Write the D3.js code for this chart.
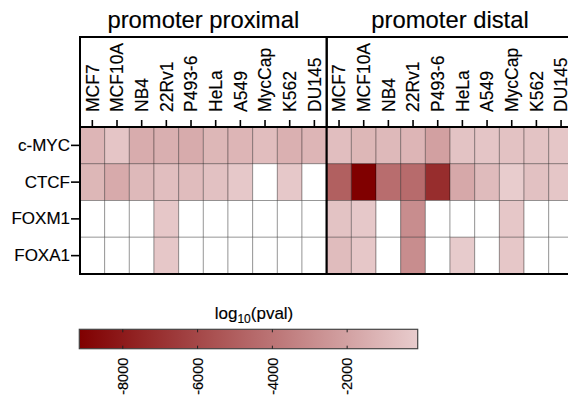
<!DOCTYPE html>
<html>
<head>
<meta charset="utf-8">
<script src="https://cdn.jsdelivr.net/npm/d3@7"></script>
<style>
  body { margin: 0; background: #fff; }
  svg { display: block; font-family: 'Liberation Sans', Arial, sans-serif; }
  text { fill: #000; stroke: #000; stroke-width: 0.15px; }
  .axis path { display: none; }
  .axis line { stroke: #000; stroke-width: 1.6; }
  .cell { stroke: #000; stroke-opacity: 0.3; stroke-width: 1; }
  .frame { fill: none; stroke: #000; stroke-width: 2; }
</style>
</head>
<body>
<svg class="chart"></svg>
<script>
const cellLines = ['MCF7', 'MCF10A', 'NB4', '22Rv1', 'P493-6', 'HeLa', 'A549', 'MycCap', 'K562', 'DU145'];
const factors = ['c-MYC', 'CTCF', 'FOXM1', 'FOXA1'];
const panels = ['promoter proximal', 'promoter distal'];

// log10(pval) per factor (rows) and cell line (columns); null = not significant
const proximalValues = [
  [-1100, -400, -1500, -1400, -1550, -1050, -1100, -750, -1350, -1100],
  [-1050, -1600, -950, -720, -810, -590, -280, null, -280, null],
  [null, null, null, -300, null, null, null, null, null, null],
  [null, null, null, -300, null, null, null, null, null, null],
];
const distalValues = [
  [-720, -1050, -950, -1100, -2050, -500, -410, -550, -500, -370],
  [-4900, -9150, -4300, -4400, -7150, -1700, -850, -120, -600, -350],
  [-500, -280, null, -2900, null, null, null, -300, null, null],
  [-800, -300, null, -2900, null, -150, null, -300, null, null],
];
const colorDomain = [-9150, -100];
const colorbarTicks = [-8000, -6000, -4000, -2000];

const startApp = () => {
  const viewBox = { width: 568, height: 400 };
  const left = 80;
  const panelWidth = 246.7;
  const headerTop = 37;
  const gridTop = 127;
  const gridBottom = 274;
  const svg = d3.select('.chart').attr('width', viewBox.width).attr('height', viewBox.height);

  const color = d3.scaleLinear().domain(colorDomain).range(['#800000', '#e8cccd']).clamp(true);
  const yScale = d3.scaleBand().domain(factors).range([gridTop, gridBottom]);

  [proximalValues, distalValues].forEach((values, p) => {
    const x0 = left + p * panelWidth;
    const xScale = d3.scaleBand().domain(cellLines).range([x0, x0 + panelWidth]);
    const cells = values.flatMap((row, r) => row.map((v, c) => ({ factor: factors[r], line: cellLines[c], v })));

    svg.append('g').selectAll('rect')
      .data(cells)
      .enter()
      .append('rect')
      .classed('cell', true)
      .attr('x', d => xScale(d.line))
      .attr('y', d => yScale(d.factor))
      .attr('width', xScale.bandwidth())
      .attr('height', yScale.bandwidth())
      .attr('fill', d => (d.v === null ? '#fff' : color(d.v)));

    svg.append('rect').classed('frame', true)
      .attr('x', x0).attr('y', gridTop).attr('width', panelWidth).attr('height', gridBottom - gridTop);
    svg.append('rect').classed('frame', true)
      .attr('x', x0).attr('y', headerTop).attr('width', panelWidth).attr('height', gridTop - headerTop);

    const xAxis = svg.append('g')
      .classed('axis', true)
      .attr('transform', `translate(0, ${gridTop})`)
      .call(d3.axisTop(xScale).tickSize(7).tickSizeOuter(0));
    xAxis.selectAll('text')
      .attr('transform', 'rotate(-90)')
      .attr('x', 15).attr('y', 0).attr('dy', '0.36em')
      .style('text-anchor', 'start')
      .style('font-size', '17.5px');

    svg.append('text')
      .attr('x', x0 + panelWidth / 2).attr('y', 28)
      .style('text-anchor', 'middle')
      .style('font-size', '23.8px')
      .text(panels[p]);
  });

  const yAxis = svg.append('g')
    .classed('axis', true)
    .attr('transform', `translate(${left}, 0)`)
    .call(d3.axisLeft(yScale).tickSize(9).tickPadding(1).tickSizeOuter(0));
  yAxis.selectAll('text').style('font-size', '17px');

  // colour bar
  const barTop = 329.3;
  const barHeight = 19.4;
  const barScale = d3.scaleLinear().domain(colorDomain).range([79.3, 417.7]);
  const gradient = svg.append('defs').append('linearGradient').attr('id', 'pvalGradient');
  d3.range(0, 1.0001, 0.1).forEach((t) => {
    gradient.append('stop')
      .attr('offset', `${t * 100}%`)
      .attr('stop-color', color(colorDomain[0] + t * (colorDomain[1] - colorDomain[0])));
  });

  svg.append('rect')
    .attr('x', barScale(colorDomain[0])).attr('y', barTop)
    .attr('width', barScale(colorDomain[1]) - barScale(colorDomain[0])).attr('height', barHeight)
    .attr('fill', 'url(#pvalGradient)')
    .attr('stroke', '#444').attr('stroke-width', 1.2);

  svg.append('g')
    .classed('axis', true)
    .attr('transform', `translate(0, ${barTop})`)
    .call(d3.axisTop(barScale).tickValues(colorbarTicks).tickSize(-3).tickFormat(''))
    .selectAll('line').style('stroke-width', 1).style('stroke', '#222');

  const barAxis = svg.append('g')
    .classed('axis', true)
    .attr('transform', `translate(0, ${barTop + barHeight})`)
    .call(d3.axisBottom(barScale).tickValues(colorbarTicks).tickSize(-3).tickFormat(String));
  barAxis.selectAll('line').style('stroke-width', 1).style('stroke', '#222');
  barAxis.selectAll('text')
    .attr('transform', 'rotate(-90)')
    .attr('x', -9).attr('y', 0).attr('dy', '0.36em')
    .style('text-anchor', 'end')
    .style('font-size', '14.5px');

  const barTitle = svg.append('text')
    .attr('x', 254).attr('y', 319)
    .style('text-anchor', 'middle')
    .style('font-size', '17px');
  barTitle.append('tspan').text('log');
  barTitle.append('tspan').attr('dy', 4).style('font-size', '12px').text('10');
  barTitle.append('tspan').attr('dy', -4).text('(pval)');
};

window.onload = startApp;
</script>
</body>
</html>
